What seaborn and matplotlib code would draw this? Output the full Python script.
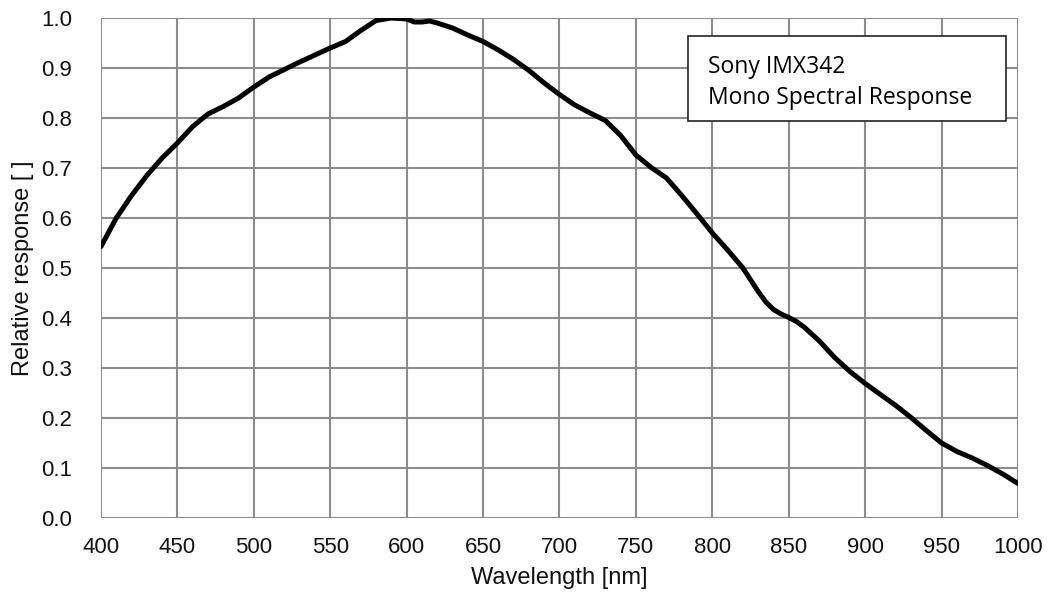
import matplotlib
matplotlib.use("Agg")
import matplotlib.pyplot as plt
import seaborn as sns
import pandas as pd
from matplotlib.patches import Rectangle

wavelength = [400, 410, 420, 430, 440, 450, 460, 470, 480, 490,
              500, 510, 520, 530, 540, 550, 560, 570, 580, 590,
              600, 605, 610, 615, 620, 630, 640, 650, 660, 670,
              680, 690, 700, 710, 720, 730, 740, 750, 760, 770,
              780, 790, 800, 810, 820, 830, 835, 840, 845, 850,
              855, 860, 870, 880, 890, 900, 910, 920, 930, 940,
              950, 960, 970, 980, 990, 1000]
response = [0.543, 0.600, 0.645, 0.685, 0.720, 0.750, 0.783, 0.808, 0.823, 0.840,
            0.862, 0.882, 0.897, 0.912, 0.926, 0.940, 0.953, 0.975, 0.995, 1.000,
            0.998, 0.992, 0.992, 0.994, 0.990, 0.980, 0.966, 0.953, 0.936, 0.917,
            0.895, 0.870, 0.847, 0.826, 0.810, 0.795, 0.765, 0.726, 0.701, 0.680,
            0.645, 0.608, 0.570, 0.536, 0.500, 0.453, 0.432, 0.417, 0.408, 0.401,
            0.393, 0.382, 0.354, 0.321, 0.293, 0.269, 0.247, 0.225, 0.201, 0.175,
            0.150, 0.133, 0.120, 0.105, 0.088, 0.069]
x_ticks = list(range(400, 1001, 50))
y_ticks = [i / 10 for i in range(0, 11)]
title_lines = ["Sony IMX342", "Mono Spectral Response"]

df = pd.DataFrame({"Wavelength": wavelength, "Response": response})

sns.set_style("white")
plt.rcParams['font.family'] = ['Liberation Sans', 'DejaVu Sans']

fig = plt.figure(figsize=(10.53, 5.98), dpi=100)
ax = fig.add_axes([101/1053, 80/598, 917/1053, 500/598])

grid_color = "#8c8c8c"
sns.lineplot(data=df, x="Wavelength", y="Response", ax=ax, color="black",
             linewidth=3.6, zorder=3)

ax.set_xlim(400, 1000)
ax.set_ylim(0, 1.0)
ax.set_xticks(x_ticks)
ax.set_yticks(y_ticks)
ax.set_yticklabels([f"{v:.1f}" for v in y_ticks])
ax.grid(True, color=grid_color, linewidth=1.5)
for s in ax.spines.values():
    s.set_visible(False)
ax.tick_params(axis="both", direction="out", length=7, width=1.5, color=grid_color,
               labelsize=16, labelcolor="#111111")
ax.tick_params(axis="y", pad=14)
ax.tick_params(axis="x", pad=7)
ax.set_xlabel("Wavelength [nm]", fontsize=17, color="#111111", labelpad=6)
ax.set_ylabel("Relative response [ ]", fontsize=17, color="#111111", labelpad=5)

box = Rectangle((0.640, 0.794), 0.347, 0.170, transform=ax.transAxes,
                facecolor="white", edgecolor="#222222", linewidth=1.2, zorder=5)
ax.add_patch(box)
ax.text(0.662, 0.902, title_lines[0], transform=ax.transAxes, fontsize=16.5,
        family=['Open Sans', 'DejaVu Sans'], color="black", va="center", ha="left", zorder=6)
ax.text(0.662, 0.840, title_lines[1], transform=ax.transAxes, fontsize=16.5,
        family=['Open Sans', 'DejaVu Sans'], color="black", va="center", ha="left", zorder=6)

fig.savefig("out.png", dpi=100)
